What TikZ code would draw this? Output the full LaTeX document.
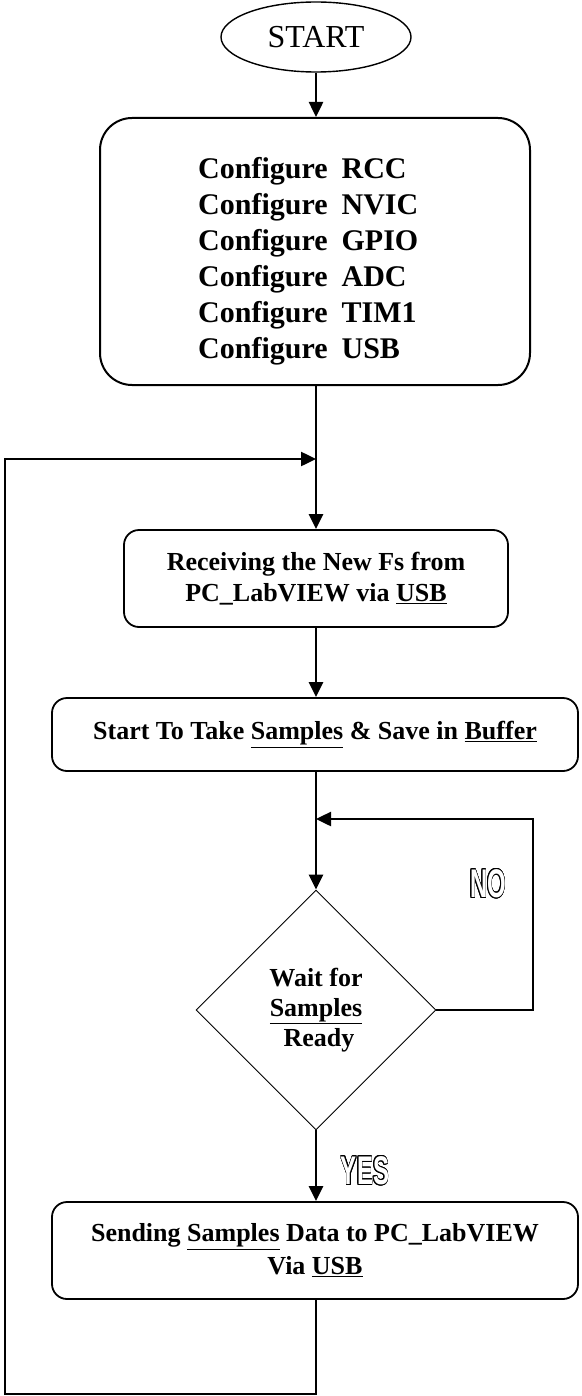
\documentclass[tikz,border=0pt]{standalone}
\usepackage{fontspec}
\setmainfont{Liberation Serif}
\newfontfamily\answerfont{Liberation Sans}
\usepackage{contour}
\contourlength{1.1pt}
\usetikzlibrary{shapes.geometric, arrows.meta, positioning}

\newcommand{\outlined}[1]{\scalebox{0.6}[1]{\contour{black}{\textcolor{white}{#1}}}}

\tikzset{
    terminal/.style={ellipse, draw, line width=1.4pt, minimum width=190pt, minimum height=70pt, inner sep=0pt, font=\fontsize{32}{36}\selectfont},
    setup/.style={rectangle, rounded corners=32pt, draw, line width=2pt, minimum width=430pt, minimum height=267pt, inner sep=0pt},
    process/.style={rectangle, rounded corners=15pt, draw, line width=1.8pt, inner sep=0pt, text centered, align=center, font=\fontsize{26}{31}\selectfont\bfseries},
    decision/.style={diamond, draw, line width=0.9pt, aspect=1, minimum width=240pt, minimum height=240pt, inner sep=0pt, align=center, font=\fontsize{26}{30}\selectfont\bfseries},
    setuptext/.style={inner sep=0pt, font=\fontsize{30}{36}\selectfont\bfseries},
    answer/.style={inner sep=0pt, font=\answerfont\bfseries\fontsize{40}{40}\selectfont},
    flow/.style={-{Triangle[length=15pt, width=14pt]}, line width=2.5pt}
}

\begin{document}
\begin{tikzpicture}[x=1pt, y=-1pt]
    \useasboundingbox (0,0) rectangle (581,1396);

    % Start
    \node[terminal] (start) at (316,37) {START};

    % Peripheral setup
    \node[setup] (config) at (315,251.5) {};
    \node[setuptext, anchor=west] (configlbl) at (198,261) {%
        \begin{tabular}{@{}l@{\hspace{14pt}}l@{}}
            Configure & RCC\\
            Configure & NVIC\\
            Configure & GPIO\\
            Configure & ADC\\
            Configure & TIM1\\
            Configure & USB
        \end{tabular}};

    % Main loop
    \node[process, minimum width=384pt, minimum height=97pt] (recv) at (316,578.5)
        {Receiving the New Fs from\\PC\_LabVIEW via \underline{USB}};
    \node[process, minimum width=526pt, minimum height=73pt] (sample) at (315,734.5)
        {Start To Take \underline{Samples} \& Save in \underline{Buffer}};
    \node[decision] (wait) at (316,1010)
        {Wait for\\\underline{Samples}\\\hspace*{6pt}Ready};
    \node[process, minimum width=526pt, minimum height=97pt, font=\fontsize{26}{33}\selectfont\bfseries] (send) at (315,1250.5)
        {Sending \underline{Samples} Data to PC\_LabVIEW\\Via \underline{USB}};

    % Branch labels
    \node[answer] (nolbl) at (488,884) {\outlined{NO}};
    \node[answer] (yeslbl) at (365,1171) {\outlined{YES}};

    % Loop corners
    \coordinate (noright) at (533,1010);
    \coordinate (notop) at (533,819);
    \coordinate (nojoin) at (316,819);
    \coordinate (loopbot) at (316,1394);
    \coordinate (loopleft) at (5,1394);
    \coordinate (looptop) at (5,459);
    \coordinate (loopjoin) at (316,459);

    % Arrows
    \draw[flow] (start) -- (start |- config.north);
    \draw[flow] (config.south -| recv.north) -- (recv.north);
    \draw[flow] (recv.south) -- (recv.south |- sample.north);
    \draw[flow] (recv.south |- sample.south) -- (wait.north);
    \draw[flow] (wait.east) -- (noright) -- (notop) -- (nojoin);
    \draw[flow] (wait.south) -- (wait.south |- send.north);
    \draw[flow] (wait.south |- send.south) -- (loopbot) -- (loopleft) -- (looptop) -- (loopjoin);
\end{tikzpicture}
\end{document}
